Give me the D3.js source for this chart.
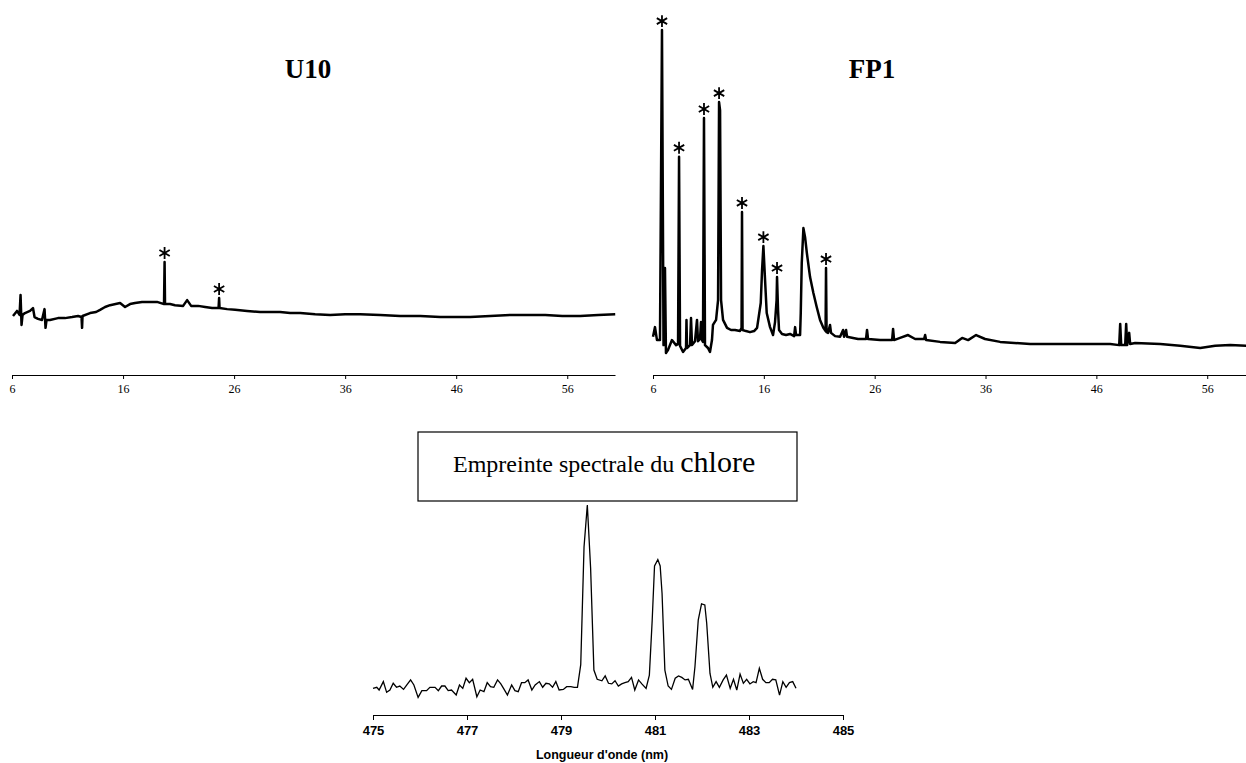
<!DOCTYPE html>
<html>
<head>
<meta charset="utf-8">
<script src="https://cdn.jsdelivr.net/npm/d3@7"></script>
<style>
  body { margin: 0; background: #fff; }
  svg { display: block; }
</style>
</head>
<body>
<div id="chart"></div>
<script>
// U10 chromatogram: [retention time, signal]
const u10Trace = [
  [6.09, 16.4], [6.45, 17.8], [6.68, 16.7], [6.77, 22.2], [6.86, 13.9], [6.95, 16.7],
  [7.17, 17.2], [7.62, 17.8], [7.89, 18.6], [8.03, 16.1], [8.34, 15.6], [8.70, 15.3],
  [8.93, 18.3], [9.02, 13.1], [9.11, 15.3], [9.42, 15.3], [10.14, 15.8], [10.77, 15.8],
  [11.41, 16.1], [11.95, 16.4], [12.26, 16.1], [12.31, 13.1], [12.35, 16.4], [13.03, 17.2],
  [13.57, 17.5], [13.93, 18.1], [14.38, 18.9], [14.83, 19.4], [15.73, 20.0], [16.18, 18.9],
  [16.63, 19.7], [17.08, 20.0], [17.71, 20.3], [18.43, 20.3], [19.06, 20.3], [19.69, 19.7],
  [19.74, 31.4], [19.78, 19.7], [20.23, 19.7], [20.68, 19.4], [21.41, 19.2], [21.77, 20.8],
  [22.13, 19.2], [22.76, 19.2], [23.39, 18.9], [24.02, 18.6], [24.60, 18.6], [24.65, 21.4],
  [24.69, 18.6], [25.37, 18.3], [26.09, 18.1], [27.17, 17.8], [28.34, 17.5], [29.24, 17.5],
  [30.14, 17.5], [31.05, 17.2], [31.95, 17.2], [33.30, 16.9], [34.65, 16.7], [36.00, 16.9],
  [37.35, 16.9], [39.15, 16.7], [40.95, 16.4], [42.76, 16.4], [44.56, 16.1], [45.91, 16.1],
  [47.26, 16.1], [49.06, 16.4], [50.86, 16.7], [52.49, 16.7], [54.02, 16.7], [55.55, 16.4],
  [57.17, 16.4], [58.79, 16.7], [60.32, 16.9]
];

// FP1 chromatogram: [retention time, signal]
const fp1Trace = [
  [6.00, 10.6], [6.18, 13.3], [6.36, 9.7], [6.63, 9.7], [6.81, 95.8], [6.95, 8.3],
  [7.08, 29.7], [7.17, 6.1], [7.35, 6.9], [7.71, 9.7], [8.08, 8.3], [8.26, 8.6],
  [8.35, 60.6], [8.44, 8.1], [8.71, 6.4], [8.98, 7.5], [9.02, 15.3], [9.07, 7.5],
  [9.34, 8.3], [9.43, 15.8], [9.52, 8.3], [9.79, 9.4], [9.97, 15.3], [10.06, 9.4],
  [10.24, 10.0], [10.33, 14.7], [10.42, 9.7], [10.51, 9.2], [10.60, 71.4], [10.69, 8.3],
  [10.96, 7.5], [11.14, 6.4], [11.32, 9.7], [11.41, 13.9], [11.69, 15.3], [11.87, 20.8],
  [11.96, 75.8], [12.05, 73.6], [12.14, 20.8], [12.32, 15.3], [12.68, 13.1], [13.04, 12.5],
  [13.40, 12.5], [13.85, 12.2], [13.99, 13.1], [14.03, 45.3], [14.08, 12.5], [14.39, 12.2],
  [14.75, 11.9], [15.12, 12.2], [15.39, 13.1], [15.72, 20.0], [15.84, 29.2], [15.96, 35.8],
  [16.11, 26.4], [16.26, 17.2], [16.56, 13.3], [16.83, 11.1], [17.01, 14.7], [17.15, 20.8],
  [17.19, 27.2], [17.28, 18.1], [17.37, 12.5], [17.64, 11.4], [18.00, 11.1], [18.36, 11.4],
  [18.73, 10.8], [18.82, 13.3], [18.91, 11.1], [19.27, 11.1], [19.33, 17.2], [19.42, 31.1],
  [19.57, 40.8], [19.72, 38.3], [19.88, 33.9], [20.17, 27.2], [20.47, 22.8], [20.77, 18.9],
  [21.07, 15.3], [21.37, 13.1], [21.57, 12.2], [21.61, 29.7], [21.66, 11.9], [21.79, 11.7],
  [21.97, 13.9], [22.06, 11.7], [22.43, 10.8], [22.88, 10.6], [23.15, 12.5], [23.24, 10.6],
  [23.42, 12.5], [23.51, 10.6], [24.05, 10.3], [24.50, 10.0], [25.22, 10.0], [25.31, 12.5],
  [25.40, 10.0], [26.49, 9.7], [27.57, 9.7], [27.66, 12.8], [27.75, 9.7], [28.29, 10.3],
  [29.01, 11.1], [29.65, 10.0], [30.46, 10.0], [30.55, 11.1], [30.64, 9.7], [31.90, 9.2],
  [33.26, 8.9], [33.89, 10.3], [34.43, 9.7], [35.15, 11.1], [35.96, 10.0], [37.32, 9.2],
  [40.03, 8.6], [42.73, 8.6], [45.44, 8.6], [47.25, 8.6], [48.06, 8.3], [48.15, 14.2],
  [48.24, 8.3], [48.60, 8.3], [48.69, 14.2], [48.78, 8.3], [48.96, 11.7], [49.05, 8.6],
  [49.50, 8.9], [51.76, 8.6], [53.56, 8.1], [55.37, 7.5], [56.72, 8.1], [58.08, 8.3],
  [59.52, 8.1]
];

// peaks flagged with an asterisk (retention times)
const u10Stars = [19.74, 24.65];
const fp1Stars = [6.81, 8.35, 10.60, 11.96, 14.03, 15.96, 17.19, 21.61];

// chlorine emission spectrum: [wavelength nm, intensity]
const chloreSpectrum = [
  [475.00, 12.7], [475.08, 13.2], [475.13, 11.9], [475.22, 15.9], [475.29, 10.8], [475.36, 11.9],
  [475.43, 15.1], [475.50, 13.2], [475.57, 13.8], [475.65, 12.2], [475.72, 14.3], [475.80, 16.7],
  [475.87, 14.3], [475.96, 8.4], [476.04, 11.6], [476.14, 11.6], [476.21, 13.2], [476.32, 13.2],
  [476.39, 11.6], [476.46, 13.8], [476.53, 13.8], [476.60, 11.6], [476.67, 11.9], [476.77, 9.5],
  [476.84, 14.3], [476.91, 12.7], [476.98, 17.5], [477.05, 15.4], [477.12, 17.0], [477.21, 8.7],
  [477.28, 11.9], [477.36, 11.1], [477.43, 15.4], [477.50, 13.5], [477.57, 13.2], [477.65, 16.7],
  [477.72, 14.8], [477.79, 12.2], [477.86, 9.5], [477.95, 14.3], [478.02, 11.6], [478.09, 11.1],
  [478.16, 15.4], [478.23, 15.4], [478.30, 16.7], [478.38, 11.9], [478.45, 14.3], [478.54, 15.9],
  [478.61, 13.2], [478.68, 15.1], [478.75, 14.8], [478.82, 13.2], [478.89, 15.9], [478.96, 11.9],
  [479.05, 12.2], [479.12, 13.5], [479.21, 13.5], [479.28, 13.2], [479.35, 13.2], [479.42, 24.0],
  [479.49, 80.0], [479.56, 100.0], [479.63, 70.0], [479.70, 21.4], [479.77, 17.0], [479.87, 16.3],
  [479.94, 18.6], [480.01, 15.1], [480.08, 14.8], [480.15, 16.3], [480.22, 13.8], [480.29, 14.8],
  [480.36, 15.4], [480.43, 15.9], [480.50, 17.9], [480.57, 11.9], [480.65, 16.7], [480.72, 14.8],
  [480.81, 12.7], [480.88, 19.0], [480.94, 45.0], [480.99, 71.0], [481.06, 74.0], [481.11, 71.0],
  [481.15, 58.0], [481.21, 21.4], [481.28, 13.8], [481.35, 12.2], [481.43, 17.5], [481.50, 18.6],
  [481.57, 17.9], [481.64, 16.7], [481.71, 17.0], [481.80, 12.2], [481.85, 23.0], [481.92, 45.2],
  [481.99, 52.9], [482.06, 52.4], [482.10, 43.7], [482.17, 19.8], [482.23, 13.2], [482.30, 15.9],
  [482.37, 13.2], [482.45, 16.7], [482.52, 19.0], [482.60, 12.7], [482.67, 17.0], [482.74, 11.9],
  [482.81, 19.5], [482.88, 15.1], [482.95, 17.0], [483.02, 14.8], [483.09, 15.9], [483.15, 15.4],
  [483.22, 22.2], [483.29, 17.0], [483.36, 15.4], [483.43, 15.4], [483.50, 17.0], [483.57, 16.7],
  [483.65, 9.5], [483.72, 15.9], [483.79, 13.2], [483.86, 15.4], [483.93, 15.9], [484.00, 12.7]
];

const timeTicks = [6, 16, 26, 36, 46, 56];
const nmTicks = [475, 477, 479, 481, 483, 485];

const width = 1246;
const height = 763;

const svg = d3.select("#chart").append("svg")
  .attr("width", width)
  .attr("height", height);

// Scales
const yTop = d3.scaleLinear().domain([0, 100]).range([375, 15]);
const xU10 = d3.scaleLinear().domain([6, 60.3]).range([12, 615]);
const xFP1 = d3.scaleLinear().domain([6, 59.5]).range([653, 1246]);
const xNm = d3.scaleLinear().domain([475, 485]).range([373, 843]);
const yNm = d3.scaleLinear().domain([0, 100]).range([715, 505]);

const star = d3.symbol(d3.symbolAsterisk, 100);

function drawChromatogram(x, trace, stars, title, titleX) {
  const line = d3.line()
    .x(d => x(d[0]))
    .y(d => yTop(d[1]));

  svg.append("path")
    .datum(trace)
    .attr("fill", "none")
    .attr("stroke", "#000")
    .attr("stroke-width", 2.5)
    .attr("stroke-linejoin", "round")
    .attr("d", line);

  const axis = svg.append("g")
    .attr("transform", "translate(0,375)")
    .call(d3.axisBottom(x).tickValues(timeTicks).tickSize(4).tickSizeOuter(0).tickPadding(5));
  axis.select(".domain").attr("stroke-width", 1.2);
  axis.selectAll("text")
    .style("font-family", "'Liberation Serif', serif")
    .style("font-size", "12px")
    .attr("fill", "#000");

  // asterisks above the flagged peaks
  svg.append("g")
    .selectAll("path")
    .data(stars)
    .join("path")
      .attr("d", star)
      .attr("fill", "none")
      .attr("stroke", "#000")
      .attr("stroke-width", 1.8)
      .attr("transform", t => {
        const top = d3.max(trace.filter(d => Math.abs(d[0] - t) < 0.12), d => d[1]);
        return `translate(${x(t)},${yTop(top) - 9})`;
      });

  svg.append("text")
    .attr("x", titleX)
    .attr("y", 78)
    .attr("text-anchor", "middle")
    .style("font-family", "'Liberation Serif', serif")
    .style("font-weight", "bold")
    .style("font-size", "27px")
    .text(title);
}

drawChromatogram(xU10, u10Trace, u10Stars, "U10", 308);
drawChromatogram(xFP1, fp1Trace, fp1Stars, "FP1", 872);

// Spectrum panel
svg.append("path")
  .datum(chloreSpectrum)
  .attr("fill", "none")
  .attr("stroke", "#000")
  .attr("stroke-width", 1.3)
  .attr("d", d3.line().x(d => xNm(d[0])).y(d => yNm(d[1])));

const nmAxis = svg.append("g")
  .attr("transform", "translate(0,715)")
  .call(d3.axisBottom(xNm).tickValues(nmTicks).tickSize(5).tickSizeOuter(0).tickPadding(6));
nmAxis.select(".domain").attr("stroke-width", 1.2);
nmAxis.selectAll("text")
  .style("font-family", "'Liberation Sans', Arial, sans-serif")
  .style("font-weight", "bold")
  .style("font-size", "13px")
  .attr("fill", "#000");

svg.append("text")
  .attr("x", 602)
  .attr("y", 759)
  .attr("text-anchor", "middle")
  .style("font-family", "'Liberation Sans', Arial, sans-serif")
  .style("font-weight", "bold")
  .style("font-size", "12.5px")
  .text("Longueur d'onde (nm)");

// Label box
svg.append("rect")
  .attr("x", 418)
  .attr("y", 432)
  .attr("width", 379)
  .attr("height", 69)
  .attr("fill", "#fff")
  .attr("stroke", "#000")
  .attr("stroke-width", 1.2);

const boxText = svg.append("text")
  .attr("x", 453)
  .attr("y", 472)
  .style("font-family", "'Liberation Serif', serif")
  .style("font-size", "24px");
boxText.append("tspan").text("Empreinte spectrale du ");
boxText.append("tspan").style("font-size", "30px").text("chlore");
</script>
</body>
</html>
